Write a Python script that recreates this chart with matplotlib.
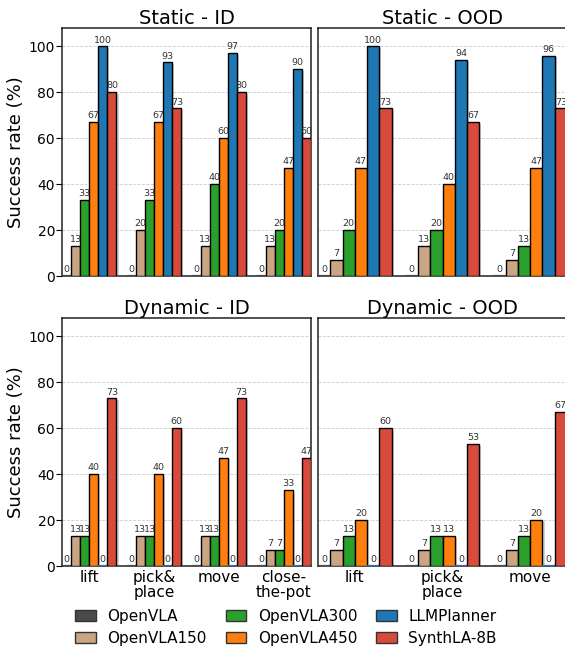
import matplotlib
matplotlib.use("Agg")
import matplotlib.pyplot as plt
import matplotlib.patheffects as pe
import numpy as np

series = ["OpenVLA", "OpenVLA150", "OpenVLA300", "OpenVLA450", "LLMPlanner", "SynthLA-8B"]
colors = ["#4a4a4a", "#c9a584", "#2ca02c", "#ff7f0e", "#1f77b4", "#d84a3c"]

cats_left = ["lift", "pick&\nplace", "move", "close-\nthe-pot"]
cats_right = ["lift", "pick&\nplace", "move"]

static_id = {
    "OpenVLA": [0, 0, 0, 0],
    "OpenVLA150": [13, 20, 13, 13],
    "OpenVLA300": [33, 33, 40, 20],
    "OpenVLA450": [67, 67, 60, 47],
    "LLMPlanner": [100, 93, 97, 90],
    "SynthLA-8B": [80, 73, 80, 60],
}
static_ood = {
    "OpenVLA": [0, 0, 0],
    "OpenVLA150": [7, 13, 7],
    "OpenVLA300": [20, 20, 13],
    "OpenVLA450": [47, 40, 47],
    "LLMPlanner": [100, 94, 96],
    "SynthLA-8B": [73, 67, 73],
}
dynamic_id = {
    "OpenVLA": [0, 0, 0, 0],
    "OpenVLA150": [13, 13, 13, 7],
    "OpenVLA300": [13, 13, 13, 7],
    "OpenVLA450": [40, 40, 47, 33],
    "LLMPlanner": [0, 0, 0, 0],
    "SynthLA-8B": [73, 60, 73, 47],
}
dynamic_ood = {
    "OpenVLA": [0, 0, 0],
    "OpenVLA150": [7, 7, 7],
    "OpenVLA300": [13, 13, 13],
    "OpenVLA450": [20, 13, 20],
    "LLMPlanner": [0, 0, 0],
    "SynthLA-8B": [60, 53, 67],
}

W, H = 565, 647
fig = plt.figure(figsize=(W / 100, H / 100), dpi=100)

def px_axes(x0, x1, y0, y1):
    return fig.add_axes([x0 / W, 1 - y1 / H, (x1 - x0) / W, (y1 - y0) / H])

ax_tl = px_axes(62, 311, 28, 276)
ax_tr = px_axes(318, 567, 28, 276)
ax_bl = px_axes(62, 311, 318, 566)
ax_br = px_axes(318, 567, 318, 566)

width = 0.14
shadow = [pe.SimplePatchShadow(offset=(1.5, -1.0), shadow_rgbFace="gray", alpha=0.35), pe.Normal()]

def draw(ax, cats, data, title, show_x, show_y):
    x = np.arange(len(cats))
    n = len(series)
    for i, (s, c) in enumerate(zip(series, colors)):
        vals = data[s]
        pos = x + (i - (n - 1) / 2) * width
        for p, v in zip(pos, vals):
            ec = "black" if v > 0 else c
            lw = 1.0 if v > 0 else 1.6
            b = ax.bar(p, v, width, color=c, edgecolor=ec, linewidth=lw, zorder=3)
            b[0].set_path_effects(shadow)
            ax.text(p, v + 0.8, f"{v}", ha="center", va="bottom", fontsize=6.8,
                    color="#333333", zorder=4)
    ax.set_xlim(-n / 2 * width, len(cats) - 1 + n / 2 * width)
    ax.set_ylim(0, 108)
    ax.set_yticks([0, 20, 40, 60, 80, 100])
    ax.grid(axis="y", linestyle="--", color="#cccccc", linewidth=0.6, zorder=0)
    ax.set_axisbelow(True)
    ax.set_title(title, fontsize=14, pad=3)
    ax.set_xticks(x)
    if show_x:
        ax.set_xticklabels(cats, fontsize=11, linespacing=0.95)
    else:
        ax.set_xticklabels([])
    ax.tick_params(axis="x", length=0, pad=3)
    if show_y:
        ax.tick_params(axis="y", labelsize=10, length=4, pad=1)
        ax.set_ylabel("Success rate (%)", fontsize=13, labelpad=3)
    else:
        ax.set_yticklabels([])
        ax.tick_params(axis="y", length=0)
    for sp in ax.spines.values():
        sp.set_linewidth(1.1)
        sp.set_color("#222222")

draw(ax_tl, cats_left, static_id, "Static - ID", False, True)
draw(ax_tr, cats_right, static_ood, "Static - OOD", False, False)
draw(ax_bl, cats_left, dynamic_id, "Dynamic - ID", True, True)
draw(ax_br, cats_right, dynamic_ood, "Dynamic - OOD", True, False)

handles = [plt.Rectangle((0, 0), 1, 1, facecolor=c, edgecolor="#333333", linewidth=1.0)
           for c in colors]
fig.legend(handles, series, loc="upper left", bbox_to_anchor=(75 / W, 1 - 609 / H), ncol=3,
           frameon=False, fontsize=11, handlelength=1.35, handleheight=0.75,
           columnspacing=1.25, handletextpad=0.75, labelspacing=0.45,
           borderaxespad=0.0, borderpad=0.0)

fig.savefig("out.png", dpi=100)
